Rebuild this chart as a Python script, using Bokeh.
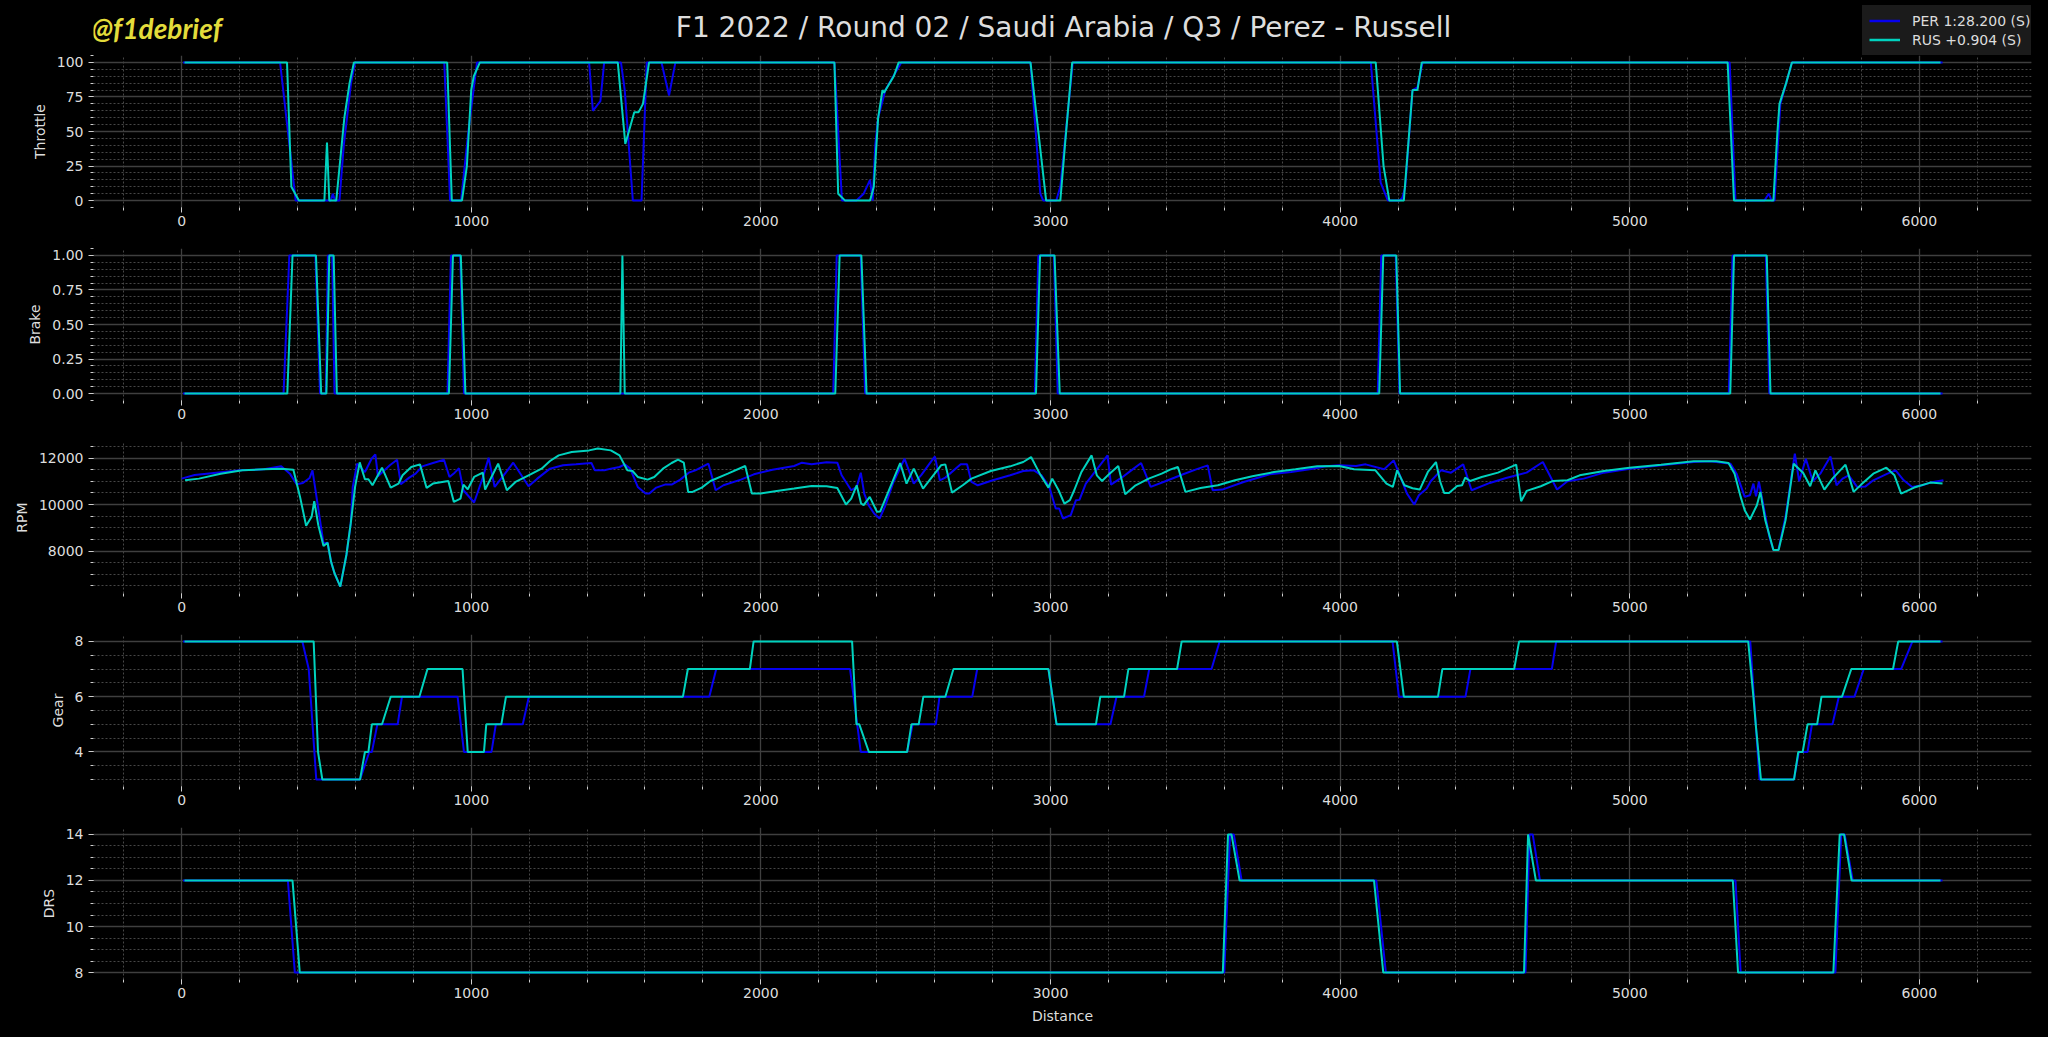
from bokeh.plotting import figure
from bokeh.layouts import column
from bokeh.models import Range1d, SingleIntervalTicker, Legend, LegendItem, Label, NumeralTickFormatter, BasicTickFormatter
from bokeh.embed import file_html
from bokeh.resources import INLINE

TITLE = "F1 2022 / Round 02 / Saudi Arabia / Q3 / Perez - Russell"
WATERMARK = "@f1debrief"
DRIVER_LABELS = ["PER 1:28.200 (S)", "RUS +0.904 (S)"]
DRIVER_COLORS = ["#0600ef", "#00d2be"]
X_LABEL = "Distance"

# (distance, value) pairs
per_throttle = [(5, 100), (340, 100), (394, 0), (515, 0), (522, 5), (530, 0), (545, 0), (560, 40), (585, 85),
                (599, 100), (907, 100), (927, 0), (965, 0), (990, 50), (1020, 100), (1407, 100), (1420, 65),
                (1446, 72), (1459, 100), (1517, 100), (1530, 80), (1558, 0), (1588, 0), (1606, 100), (1657, 100),
                (1683, 76), (1705, 100), (2254, 100), (2280, 0), (2330, 0), (2355, 5), (2377, 15), (2386, 0),
                (2395, 40), (2405, 60), (2430, 80), (2485, 100), (2931, 100), (2965, 5), (2975, 0), (3020, 0),
                (3034, 10), (3077, 100), (4106, 100), (4140, 13), (4165, 0), (4205, 0), (4215, 2), (4225, 10),
                (4250, 80), (4267, 82), (4285, 100), (5345, 100), (5365, 0), (5465, 0), (5480, 5), (5490, 0),
                (5500, 0), (5520, 70), (5540, 85), (5560, 100), (6080, 100)]
rus_throttle = [(10, 100), (364, 100), (379, 10), (405, 0), (493, 0), (502, 42), (510, 0), (534, 0), (548, 30),
                (562, 60), (580, 85), (595, 100), (917, 100), (933, 0), (968, 0), (985, 25), (1000, 80), (1009, 90),
                (1030, 100), (1506, 100), (1532, 41), (1563, 64), (1578, 64), (1593, 70), (1614, 100), (2254, 100),
                (2267, 5), (2291, 0), (2377, 0), (2390, 10), (2405, 60), (2420, 80), (2425, 78), (2459, 90),
                (2476, 100), (2931, 100), (2985, 0), (3034, 0), (3050, 40), (3075, 100), (4123, 100), (4150, 25),
                (4170, 0), (4220, 0), (4235, 40), (4250, 80), (4267, 80), (4282, 100), (5338, 100), (5360, 0),
                (5496, 0), (5510, 50), (5517, 70), (5540, 85), (5560, 100), (6073, 100)]

per_brake = [(5, 0), (352, 0), (372, 1), (462, 1), (478, 0), (498, 0), (505, 1), (520, 1), (528, 0), (918, 0),
             (930, 1), (962, 1), (975, 0), (2250, 0), (2262, 1), (2345, 1), (2360, 0), (2946, 0), (2958, 1),
             (3012, 1), (3025, 0), (4130, 0), (4142, 1), (4192, 1), (4205, 0), (5342, 0), (5355, 1), (5470, 1),
             (5482, 0), (6080, 0)]
rus_brake = [(10, 0), (365, 0), (383, 1), (464, 1), (482, 0), (500, 0), (510, 1), (525, 1), (536, 0), (923, 0),
             (937, 1), (964, 1), (980, 0), (1515, 0), (1522, 1), (1530, 0), (2257, 0), (2272, 1), (2347, 1),
             (2365, 0), (2950, 0), (2964, 1), (3014, 1), (3032, 0), (4135, 0), (4149, 1), (4194, 1), (4207, 0),
             (5347, 0), (5360, 1), (5473, 1), (5486, 0), (6073, 0)]

per_rpm = [(0, 11114), (45, 11271), (120, 11371), (202, 11471), (284, 11514), (344, 11643), (374, 11328),
           (397, 10871), (419, 10928), (442, 11143), (452, 11471), (490, 8328), (504, 8357), (516, 7543),
           (528, 7043), (548, 6470), (569, 7829), (584, 9185), (591, 10757), (606, 11757), (633, 11400),
           (656, 11971), (669, 12157), (678, 11214), (719, 11686), (744, 11929), (757, 10871), (786, 11157),
           (808, 11328), (831, 11643), (868, 11786), (906, 11929), (925, 11186), (943, 11371), (958, 11557),
           (973, 10614), (1010, 10086), (1040, 11157), (1060, 12014), (1081, 10757), (1108, 11186), (1145, 11800),
           (1198, 10786), (1228, 11114), (1272, 11543), (1317, 11686), (1362, 11728), (1415, 11786), (1427, 11471),
           (1460, 11471), (1482, 11543), (1512, 11614), (1530, 11728), (1549, 11543), (1575, 10757), (1602, 10471),
           (1615, 10471), (1639, 10728), (1669, 10857), (1692, 10857), (1722, 11071), (1751, 11371), (1774, 11471),
           (1819, 11757), (1844, 10614), (1871, 10828), (1931, 11071), (1976, 11300), (2040, 11500), (2115, 11657),
           (2142, 11800), (2175, 11728), (2227, 11814), (2264, 11800), (2279, 11257), (2312, 10614), (2331, 10757),
           (2345, 11371), (2357, 10471), (2372, 9971), (2391, 9614), (2410, 9400), (2428, 9900), (2458, 10971),
           (2496, 11971), (2528, 10900), (2555, 11286), (2578, 11686), (2601, 12071), (2618, 11043), (2637, 11157),
           (2690, 11728), (2712, 11728), (2727, 10971), (2749, 10828), (2801, 11043), (2861, 11257), (2906, 11443),
           (2943, 11471), (2969, 11257), (2996, 10757), (3018, 9829), (3030, 9829), (3043, 9400), (3070, 9543),
           (3088, 10186), (3100, 10200), (3122, 10900), (3160, 11514), (3197, 12114), (3209, 10857), (3249, 11186),
           (3279, 11471), (3313, 11786), (3346, 10757), (3399, 11014), (3458, 11300), (3503, 11514), (3543, 11686),
           (3560, 10614), (3593, 10643), (3667, 10971), (3757, 11300), (3831, 11400), (3906, 11543), (3951, 11643),
           (3997, 11686), (4055, 11657), (4088, 11728), (4152, 11514), (4185, 11900), (4204, 11328), (4231, 10471),
           (4256, 10000), (4272, 10400), (4299, 10686), (4313, 11000), (4348, 11471), (4383, 11371), (4425, 11728),
           (4454, 10614), (4517, 10929), (4573, 11143), (4644, 11371), (4700, 11829), (4749, 10643), (4785, 11000),
           (4841, 11114), (4911, 11371), (5000, 11543), (5108, 11686), (5221, 11829), (5277, 11857), (5348, 11757),
           (5369, 11328), (5397, 10328), (5415, 10400), (5427, 10900), (5436, 10350), (5446, 10986), (5468, 9543),
           (5482, 8614), (5496, 8043), (5513, 8043), (5538, 9471), (5570, 12186), (5585, 11000), (5608, 11971),
           (5632, 11000), (5658, 11328), (5693, 12071), (5714, 10829), (5735, 11114), (5756, 11257), (5785, 10757),
           (5813, 10771), (5841, 11043), (5890, 11328), (5918, 11471), (5946, 11043), (5975, 10757), (6010, 10829),
           (6038, 10943), (6083, 11043)]
rus_rpm = [(12, 11043), (60, 11114), (135, 11328), (210, 11471), (284, 11514), (344, 11543), (386, 11500),
           (409, 10328), (430, 9085), (449, 9471), (458, 10143), (472, 9114), (490, 8214), (504, 8357), (516, 7543),
           (528, 7043), (548, 6470), (569, 7829), (584, 9185), (599, 10757), (615, 11814), (633, 11086),
           (645, 11086), (659, 10828), (692, 11586), (722, 10728), (749, 10900), (763, 11257), (793, 11614),
           (823, 11728), (846, 10714), (868, 10900), (921, 11014), (940, 10114), (963, 10257), (973, 10857),
           (988, 10657), (1010, 11186), (1040, 11371), (1048, 10643), (1093, 11757), (1123, 10614), (1153, 10971),
           (1198, 11257), (1243, 11543), (1272, 11871), (1302, 12114), (1347, 12257), (1407, 12329), (1437, 12414),
           (1482, 12329), (1512, 12114), (1539, 11471), (1557, 11443), (1575, 11186), (1609, 11071), (1632, 11186),
           (1662, 11543), (1692, 11786), (1714, 11929), (1734, 11800), (1749, 10543), (1764, 10543), (1796, 10728),
           (1826, 11014), (1886, 11328), (1946, 11657), (1969, 10471), (1999, 10471), (2055, 10586), (2115, 10686),
           (2175, 10800), (2227, 10786), (2264, 10714), (2294, 10000), (2312, 10257), (2331, 10828), (2346, 10043),
           (2355, 9971), (2376, 10328), (2401, 9686), (2412, 9700), (2481, 11786), (2503, 10900), (2528, 11543),
           (2560, 10686), (2600, 11328), (2622, 11686), (2637, 11728), (2660, 10514), (2697, 10828), (2727, 11114),
           (2794, 11443), (2861, 11643), (2906, 11829), (2933, 12043), (2963, 11328), (2993, 10728), (3006, 11114),
           (3028, 10614), (3048, 10043), (3067, 10186), (3082, 10614), (3107, 11400), (3142, 12114), (3160, 11257),
           (3178, 11014), (3204, 11328), (3234, 11657), (3258, 10443), (3294, 10828), (3339, 11114), (3384, 11328),
           (3413, 11500), (3440, 11614), (3466, 10543), (3518, 10714), (3578, 10828), (3637, 11043), (3697, 11214),
           (3772, 11400), (3846, 11514), (3921, 11643), (3997, 11657), (4048, 11514), (4122, 11471), (4160, 10900),
           (4182, 10757), (4197, 11471), (4222, 10829), (4250, 10700), (4275, 10643), (4303, 11400), (4331, 11829),
           (4345, 11000), (4359, 10500), (4376, 10500), (4404, 10800), (4421, 10829), (4432, 11157), (4449, 11014),
           (4489, 11186), (4545, 11371), (4608, 11714), (4625, 10143), (4644, 10586), (4693, 10786), (4735, 11014),
           (4785, 11043), (4827, 11257), (4911, 11443), (5000, 11586), (5108, 11714), (5221, 11857), (5299, 11857),
           (5341, 11786), (5362, 11328), (5383, 10328), (5397, 9757), (5415, 9357), (5439, 9971), (5451, 10543),
           (5468, 9329), (5482, 8686), (5496, 8043), (5514, 8043), (5538, 9329), (5566, 11757), (5599, 11357),
           (5623, 10786), (5641, 11471), (5672, 10643), (5700, 11114), (5745, 11714), (5773, 10543), (5799, 10857),
           (5841, 11328), (5886, 11586), (5914, 11257), (5937, 10471), (5982, 10729), (6038, 10943), (6080, 10900)]

per_gear = [(5, 8), (417, 8), (439, 7), (465, 3), (616, 3), (648, 4), (657, 4), (676, 5), (746, 5), (761, 6),
            (953, 6), (975, 4), (1070, 4), (1085, 5), (1178, 5), (1199, 6), (1822, 6), (1846, 7), (2308, 7),
            (2345, 4), (2505, 4), (2524, 5), (2604, 5), (2617, 6), (2730, 6), (2747, 7), (2993, 7), (3021, 5),
            (3207, 5), (3228, 6), (3323, 6), (3341, 7), (3556, 7), (3584, 8), (4181, 8), (4203, 6), (4433, 6),
            (4450, 7), (4731, 7), (4746, 8), (5416, 8), (5448, 3), (5567, 3), (5584, 4), (5614, 4), (5629, 5),
            (5700, 5), (5722, 6), (5776, 6), (5808, 7), (5937, 7), (5976, 8), (6080, 8)]
rus_gear = [(10, 8), (456, 8), (471, 4), (486, 3), (616, 3), (633, 4), (645, 4), (657, 5), (692, 5), (722, 6),
            (821, 6), (849, 7), (970, 7), (988, 4), (1044, 4), (1052, 5), (1104, 5), (1120, 6), (1731, 6),
            (1748, 7), (1962, 7), (1975, 8), (2315, 8), (2330, 5), (2340, 5), (2373, 4), (2505, 4), (2520, 5),
            (2545, 5), (2561, 6), (2637, 6), (2665, 7), (2993, 7), (3021, 5), (3157, 5), (3172, 6), (3254, 6),
            (3269, 7), (3437, 7), (3453, 8), (4196, 8), (4220, 6), (4338, 6), (4353, 7), (4601, 7), (4618, 8),
            (5409, 8), (5427, 6), (5435, 5), (5453, 3), (5567, 3), (5582, 4), (5597, 4), (5614, 5), (5647, 5),
            (5662, 6), (5733, 6), (5765, 7), (5909, 7), (5927, 8), (6073, 8)]

per_drs = [(5, 12), (367, 12), (391, 8), (3600, 8), (3620, 14), (3633, 14), (3660, 12), (4125, 12), (4158, 8),
           (4640, 8), (4654, 14), (4665, 14), (4690, 12), (5365, 12), (5383, 8), (5710, 8), (5730, 14), (5742, 14),
           (5770, 12), (6080, 12)]
rus_drs = [(10, 12), (383, 12), (408, 8), (3595, 8), (3613, 14), (3625, 14), (3653, 12), (4117, 12), (4149, 8),
           (4635, 8), (4649, 14), (4676, 12), (5356, 12), (5374, 8), (5703, 8), (5725, 14), (5740, 14), (5766, 12),
           (6073, 12)]

PANELS = [
    ("Throttle", per_throttle, rus_throttle, 25, 5, "0"),
    ("Brake", per_brake, rus_brake, 0.25, 5, "0.00"),
    ("RPM", per_rpm, rus_rpm, 2000, 4, "0"),
    ("Gear", per_gear, rus_gear, 2, 4, "0"),
    ("DRS", per_drs, rus_drs, 2, 4, "0"),
]

BG = "#000000"
TEXT = "#dddddd"
FONT = "DejaVu Sans"
WIDTH = 2048
LEFT, RIGHT = 93, 17
FRAME_H = 152
HEADER_H = 55
NAN = float("nan")


def xs(pairs):
    return [p[0] for p in pairs]


def ys(pairs):
    return [p[1] for p in pairs]


def padded(vals, frac=0.05):
    lo, hi = min(vals), max(vals)
    pad = (hi - lo) * frac
    return lo - pad, hi + pad


all_x = []
for _, a, b, _, _, _ in PANELS:
    all_x += xs(a) + xs(b)
x_lo, x_hi = padded(all_x)

# ---- header: title, watermark, legend (frame is aligned with the panels below) ----
header = figure(width=WIDTH, height=HEADER_H, x_range=Range1d(LEFT, WIDTH - RIGHT), y_range=Range1d(HEADER_H, 0),
                output_backend="svg", toolbar_location=None, x_axis_location=None, y_axis_location=None,
                min_border_left=LEFT, min_border_right=RIGHT, min_border_top=0, min_border_bottom=0,
                background_fill_color=BG, border_fill_color=BG, outline_line_color=None)
header.xgrid.visible = False
header.ygrid.visible = False
header.add_layout(Label(x=1063, y=27, text=TITLE, text_font=FONT, text_font_size="28px",
                        text_color=TEXT, text_align="center", text_baseline="middle"))
header.add_layout(Label(x=91, y=27, text=WATERMARK, text_font="Lato", text_font_size="28px",
                        text_font_style="bold italic", text_color="#e3dc3b", text_align="left",
                        text_baseline="middle"))
items = []
for lab, col in zip(DRIVER_LABELS, DRIVER_COLORS):
    r = header.line(x=[NAN, NAN], y=[NAN, NAN], line_color=col, line_width=2.5)
    items.append(LegendItem(label=lab, renderers=[r]))
legend = Legend(items=items, location=(1862 - LEFT, 0), margin=0, padding=6, spacing=2,
                label_height=17, glyph_height=17, glyph_width=31, label_standoff=12,
                label_text_font=FONT, label_text_font_size="14px", label_text_color=TEXT,
                background_fill_color="#1b1b1b", background_fill_alpha=1.0,
                border_line_color="#1b1b1b")
header.add_layout(legend)

plots = [header]
for i, (name, per, rus, interval, minor, fmt) in enumerate(PANELS):
    last = i == len(PANELS) - 1
    y_lo, y_hi = padded(ys(per) + ys(rus))
    bottom = 58 if last else 41
    p = figure(width=WIDTH, height=FRAME_H + bottom, x_range=Range1d(x_lo, x_hi), y_range=Range1d(y_lo, y_hi),
               output_backend="svg", toolbar_location=None,
               min_border_left=LEFT, min_border_right=RIGHT, min_border_top=0, min_border_bottom=bottom,
               background_fill_color=BG, border_fill_color=BG, outline_line_color=None)
    p.line(xs(per), ys(per), line_color=DRIVER_COLORS[0], line_width=2)
    p.line(xs(rus), ys(rus), line_color=DRIVER_COLORS[1], line_width=2)

    p.xaxis.ticker = SingleIntervalTicker(interval=1000, num_minor_ticks=5)
    p.yaxis.ticker = SingleIntervalTicker(interval=interval, num_minor_ticks=minor)
    if fmt == "0.00":
        p.yaxis.formatter = NumeralTickFormatter(format="0.00")
    else:
        p.yaxis.formatter = BasicTickFormatter(use_scientific=False)
    p.yaxis.axis_label = name
    if last:
        p.xaxis.axis_label = X_LABEL
        p.xaxis.axis_label_standoff = 7
    for ax in (p.xaxis, p.yaxis):
        ax.axis_line_color = None
        ax.major_tick_line_color = "#cfcfcf"
        ax.minor_tick_line_color = "#cfcfcf"
        ax.major_tick_in = 0
        ax.major_tick_out = 5
        ax.minor_tick_in = 0
        ax.minor_tick_out = 3
        ax.major_label_text_font = FONT
        ax.major_label_text_font_size = "14px"
        ax.major_label_text_color = TEXT
        ax.axis_label_text_font = FONT
        ax.axis_label_text_font_size = "14px"
        ax.axis_label_text_font_style = "normal"
        ax.axis_label_text_color = TEXT
    p.xaxis.major_label_standoff = 3
    p.yaxis.major_label_standoff = 5
    p.yaxis.axis_label_standoff = 6
    for g in (p.xgrid, p.ygrid):
        g.grid_line_color = "#3f3f3f"
        g.grid_line_width = 1.3
        g.minor_grid_line_color = "#464646"
        g.minor_grid_line_width = 1
        g.minor_grid_line_dash = "2 2"
    plots.append(p)

layout = column(*plots, spacing=0, styles={"background-color": BG})
html = file_html(layout, INLINE)
html = html.replace("<body>", '<body style="margin:0;background-color:#000000;">', 1)
open("out.html", "w").write(html)
